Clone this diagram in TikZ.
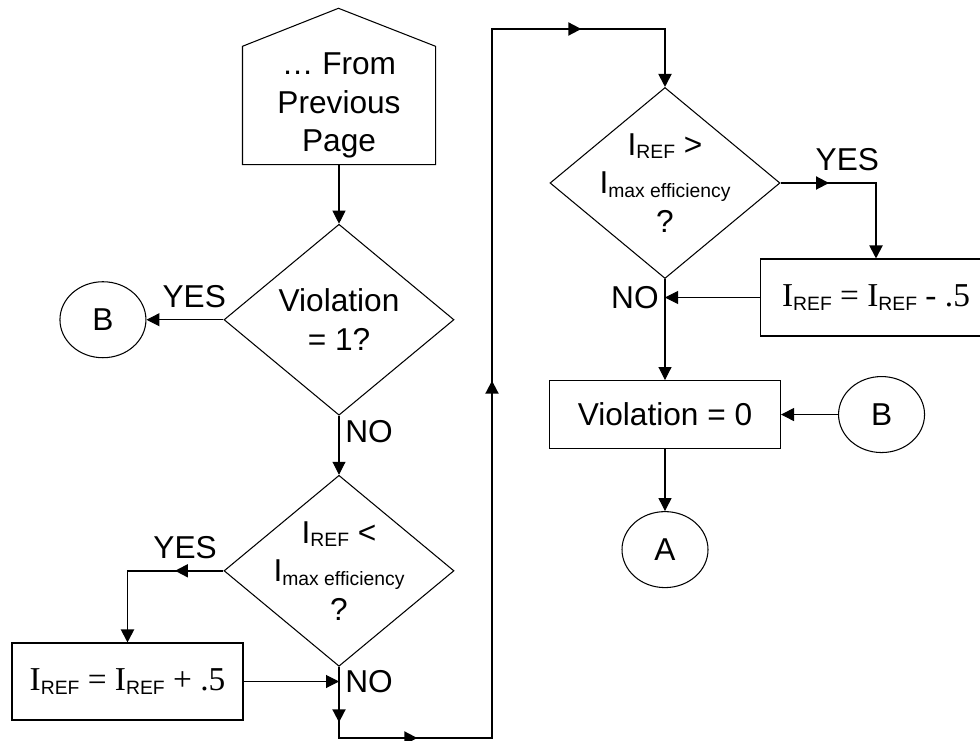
\documentclass[tikz,border=0pt]{standalone}
\usepackage{fontspec}
\setmainfont{Liberation Sans}
\newfontfamily\timesfont{Liberation Serif}
\usetikzlibrary{
  chains,
  positioning,
  shapes.geometric,
  arrows.meta,
  decorations.markings,
}
\newcommand{\Isub}[1]{I\raisebox{-2pt}{\rmfamily\fontsize{11}{11}\selectfont #1}}

\begin{document}
\begin{tikzpicture}[
  font=\fontsize{18}{22}\selectfont,
  line width=0.6pt,
  >={Triangle[length=0.26cm,width=0.26cm]},
  decision/.style={
     diamond,
     draw,
     align=center,
     shape aspect=1.2,
     inner sep=-0.15cm,
     minimum width=4.6cm,
     minimum height=3.82cm,
  },
  process/.style={
     rectangle,
     draw,
     minimum width=4.62cm,
     minimum height=1.54cm,
  },
  pagebox/.style={
     rectangle,
     align=center,
     minimum width=3.84cm,
     minimum height=2.3cm,
  },
  link/.style={
     ellipse,
     draw,
     minimum width=1.72cm,
     minimum height=1.52cm,
  },
  flow/.style={->},
  thickflow/.style={->, line width=1.1pt},
  midmarks/.style={
     postaction={decorate},
     decoration={markings, #1},
  },
  start chain=going below,
  node distance=1.18cm
]
   \useasboundingbox (0,0) rectangle (19.6,14.8);

   % left column
   \node[pagebox,on chain] (start) at (6.78,12.69) {… From\\Previous\\Page};
   \draw (start.north west) -- ++(1.92,0.76) -- (start.north east)
         -- (start.south east) -- (start.south west) -- cycle;
   \node[decision,on chain] (viol) {Violation\\= 1?};
   \node[decision,on chain] (cmp) {\Isub{REF} <\\\Isub{max efficiency}\\?};
   \node[link,left=1.54cm of viol] (b1) {B};
   \node[process,font=\timesfont\fontsize{19}{22}\selectfont] (plus) at (2.55,1.17)
      {\Isub{REF} = \Isub{REF} + .5};

   % right column
   \node[decision] (dec) at (13.3,11.14) {\Isub{REF} >\\\Isub{max efficiency}\\?};
   \node[process,font=\timesfont\fontsize{19}{22}\selectfont] (minus) at (17.52,8.85)
      {\Isub{REF} = \Isub{REF} - .5};
   \node[process,minimum height=1.36cm,below=2.02cm of dec] (zero) {Violation = 0};
   \node[link,right=1.14cm of zero] (b2) {B};
   \node[link,below=1.24cm of zero] (a) {A};

   \coordinate (lb) at (6.78,0.04);
   \coordinate (rb) at (9.84,0.04);
   \coordinate (rt) at (9.84,14.22);

   \draw[flow] (start.south) -- (viol.north);
   \draw[flow] (viol.west) -- node[above=3pt,pos=0.38] {YES} (b1.east);
   \draw[flow] (viol.south) -- node[right,pos=0.27] {NO} (cmp.north);
   \draw[thickflow,midmarks={mark=at position 0.97cm with {\arrow{>}}}]
      (cmp.west) -| node[above=3pt,pos=0.2] {YES} (plus.north);
   \draw[flow] (plus.east) -- (plus.east -| cmp.south) node[right] {NO};
   \draw[thickflow,midmarks={
      mark=at position 1.11cm with {\arrow{>}},
      mark=at position 2.99cm with {\arrow{>}},
      mark=at position 11.63cm with {\arrow{>}},
      mark=at position 20.45cm with {\arrow{>}}}]
      (cmp.south) -- (lb) -- (rb) -- (rt) -| (dec.north);
   \draw[thickflow,midmarks={mark=at position 0.97cm with {\arrow{>}}}]
      (dec.east) -| node[above=3pt,pos=0.35] {YES} (minus.north);
   \draw[flow] (minus.west) -- (minus.west -| dec.south) node[left] {NO};
   \draw[flow] (dec.south) -- (zero.north);
   \draw[flow] (b2.west) -- (zero.east);
   \draw[flow] (zero.south) -- (a.north);
\end{tikzpicture}
\end{document}
